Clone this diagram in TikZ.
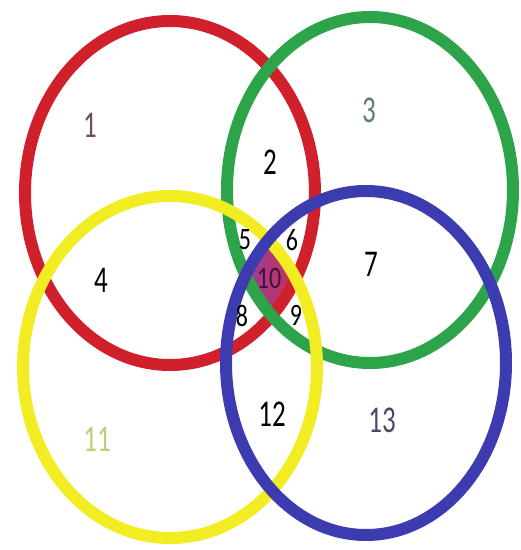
\documentclass[tikz,border=0pt]{standalone}
\usepackage{fontspec}
\setmainfont{Carlito}

\definecolor{ringred}{HTML}{D0202C}
\definecolor{ringgreen}{HTML}{2EA44A}
\definecolor{ringyellow}{HTML}{F2EC22}
\definecolor{ringblue}{HTML}{3C3CB0}
\definecolor{mixpurple}{HTML}{9040A0}
\definecolor{mixred}{HTML}{D03050}

\tikzset{
  ring/.style={line width=12pt},
  biglabel/.style={font=\fontsize{27}{27}\selectfont, yscale=1.4, inner sep=0pt},
  smalllabel/.style={font=\fontsize{24}{24}\selectfont, yscale=1.3, inner sep=0pt},
}

\begin{document}
\begin{tikzpicture}[x=1pt, y=1pt]
  \useasboundingbox (0,0) rectangle (521,550);

  % Centres
  \coordinate (R) at (170,357);
  \coordinate (G) at (370,360);
  \coordinate (Y) at (170,183);
  \coordinate (B) at (366,187);

  % Common part
  \begin{scope}
    \clip (R) ellipse [x radius=145, y radius=172];
    \clip (G) ellipse [x radius=143, y radius=173];
    \clip (Y) ellipse [x radius=147, y radius=171];
    \clip (B) ellipse [x radius=140, y radius=172];
    \shade[left color=mixpurple, right color=mixred] (235,230) rectangle (305,325);
  \end{scope}

  % Rings
  \draw[ring, ringred] (R) ellipse [x radius=145, y radius=172];
  \draw[ring, ringgreen] (G) ellipse [x radius=143, y radius=173];
  \draw[ring, ringyellow] (Y) ellipse [x radius=147, y radius=171];
  \draw[ring, ringblue] (B) ellipse [x radius=140, y radius=172];

  % Labels
  \node[biglabel, text={rgb,255:red,112;green,80;blue,80}] (n1) at (90,425) {1};
  \node[biglabel] (n2) at (270,388) {2};
  \node[biglabel, text={rgb,255:red,90;green,128;blue,106}] (n3) at (369,440) {3};
  \node[biglabel] (n4) at (101,270) {4};
  \node[smalllabel] (n5) at (245,310) {5};
  \node[smalllabel] (n6) at (292,310) {6};
  \node[biglabel] (n7) at (371,286) {7};
  \node[smalllabel] (n8) at (242,234) {8};
  \node[smalllabel] (n9) at (296,235) {9};
  \node[smalllabel, text={rgb,255:red,64;green,16;blue,58}] (n10) at (269,272) {10};
  \node[biglabel, text={rgb,255:red,200;green,200;blue,128}] (n11) at (97,111) {11};
  \node[biglabel] (n12) at (272,136) {12};
  \node[biglabel, text={rgb,255:red,74;green,74;blue,104}] (n13) at (382,130) {13};
\end{tikzpicture}
\end{document}
